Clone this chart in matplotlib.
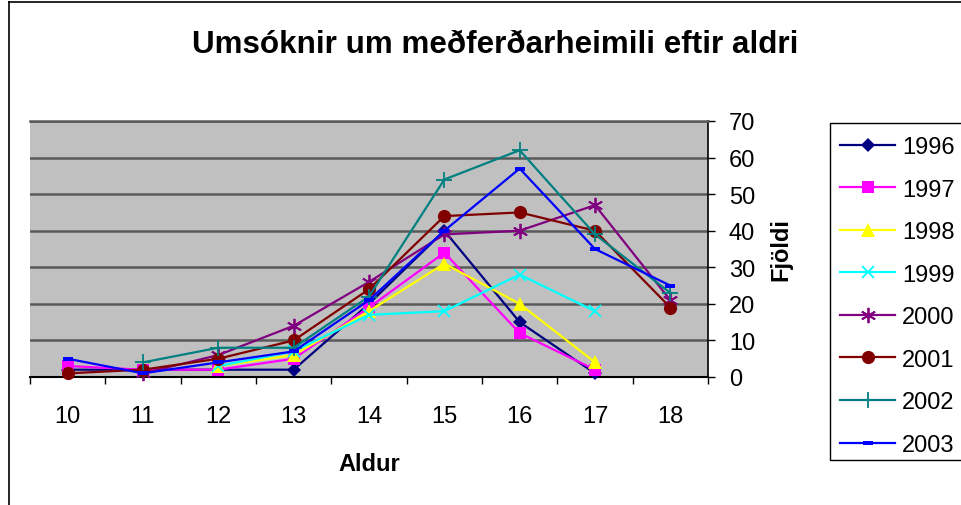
import numpy as np
import matplotlib
matplotlib.use("Agg")
import matplotlib.pyplot as plt
from matplotlib.lines import Line2D
from matplotlib.patches import Rectangle

plt.rcParams['font.family'] = ['Liberation Sans', 'DejaVu Sans']

ages = [10, 11, 12, 13, 14, 15, 16, 17, 18]
nan = np.nan
s1996 = [2, 2, 2, 2, 20, 40, 15, 1, nan]
s1997 = [3, 2, 2, 5, 19, 34, 12, 2, nan]
s1998 = [nan, nan, 3, 6, 18, 31, 20, 4, nan]
s1999 = [nan, nan, 3, 7, 17, 18, 28, 18, nan]
s2000 = [nan, 1, 6, 14, 26, 39, 40, 47, 21]
s2001 = [1, 2, 5, 10, 24, 44, 45, 40, 19]
s2002 = [nan, 4, 8, 8, 22, 54, 62, 39, 23]
s2003 = [5, 1, 4, 7, 21, 40, 57, 35, 25]
years = ['1996', '1997', '1998', '1999', '2000', '2001', '2002', '2003']
series = [s1996, s1997, s1998, s1999, s2000, s2001, s2002, s2003]
yticks = [0, 10, 20, 30, 40, 50, 60, 70]

colors = ['#000080', '#FF00FF', '#FFFF00', '#00FFFF', '#800080', '#800000', '#008080', '#0000FF']
dash = [(-1, -0.45), (1, -0.45), (1, 0.45), (-1, 0.45), (-1, -0.45)]
styles = [
    dict(marker='D', ms=7.5, mew=0),
    dict(marker='s', ms=8.5, mew=0),
    dict(marker='^', ms=10, mew=0),
    dict(marker='x', ms=9, mew=1.3),
    dict(marker=(6, 2, 0), ms=11, mew=1.3),
    dict(marker='o', ms=9.5, mew=0),
    dict(marker='+', ms=12, mew=1.3),
    dict(marker=dash, ms=7, mew=0),
]

W, H = 961, 506
fig = plt.figure(figsize=(W / 100, H / 100), dpi=100)
L, R, T, B = 30, 708, 122, 378
ax = fig.add_axes([L / W, 1 - B / H, (R - L) / W, (B - T) / H])
ax.set_facecolor('#C0C0C0')

handles = []
for i, (yr, vals, c, st) in enumerate(zip(years, series, colors, styles)):
    h, = ax.plot(ages, vals, color=c, lw=1.6, mfc=c, mec=c, zorder=3 + i, label=yr,
                 clip_on=False, **st)
    handles.append(h)

ax.set_xlim(9.5, 18.5)
ax.set_ylim(0, 70)
ax.set_xticks(ages)
ax.set_xticklabels([str(a) for a in ages])
ax.set_xticks(np.arange(9.5, 18.6, 1), minor=True)
ax.tick_params(axis='x', which='major', length=0, pad=20, labelsize=17)
ax.tick_params(axis='x', which='minor', length=5, width=1, direction='out', color='black')

ax.yaxis.tick_right()
ax.yaxis.set_label_position('right')
ax.set_yticks(yticks)
ax.set_yticklabels([str(v) for v in yticks])
ax.tick_params(axis='y', length=5, width=1, direction='out', labelsize=17, pad=10)
ax.grid(axis='y', color='#5a5a5a', lw=1.8, zorder=1)
ax.set_axisbelow(True)

ax.spines['left'].set_visible(False)
ax.spines['top'].set_color('#5a5a5a')
ax.spines['top'].set_linewidth(1.8)
ax.spines['bottom'].set_color('black')
ax.spines['bottom'].set_linewidth(1.5)
ax.spines['right'].set_color('black')
ax.spines['right'].set_linewidth(1.2)

ax.set_xlabel('Aldur', fontsize=17, fontweight='bold', labelpad=18)
ax.set_ylabel('Fjöldi', fontsize=17, fontweight='bold', labelpad=10)

fig.text(495 / W, 1 - 45 / H, 'Umsóknir um meðferðarheimili eftir aldri',
         ha='center', va='center', fontsize=22.6, fontweight='bold')

# chart area border (left and top)
fig.add_artist(Line2D([8.5 / W, 8.5 / W], [0, 1 - 3 / H], transform=fig.transFigure,
                      color='black', lw=1.2))
fig.add_artist(Line2D([8.5 / W, 1], [1 - 3 / H, 1 - 3 / H], transform=fig.transFigure,
                      color='black', lw=1.2))

# legend frame (runs past the right edge, as in the reference)
fig.add_artist(Rectangle((830 / W, 1 - 461 / H), 200 / W, (461 - 124) / H,
                         transform=fig.transFigure, facecolor='white',
                         edgecolor='black', lw=1.0, zorder=0))

leg = fig.legend(handles=handles, loc='upper left', bbox_to_anchor=(840 / W, 1 - 137 / H),
                 fontsize=17, frameon=False,
                 handlelength=2.33, handletextpad=0.3, labelspacing=0.87,
                 borderpad=0, borderaxespad=0)

fig.savefig('out.png', dpi=100)
